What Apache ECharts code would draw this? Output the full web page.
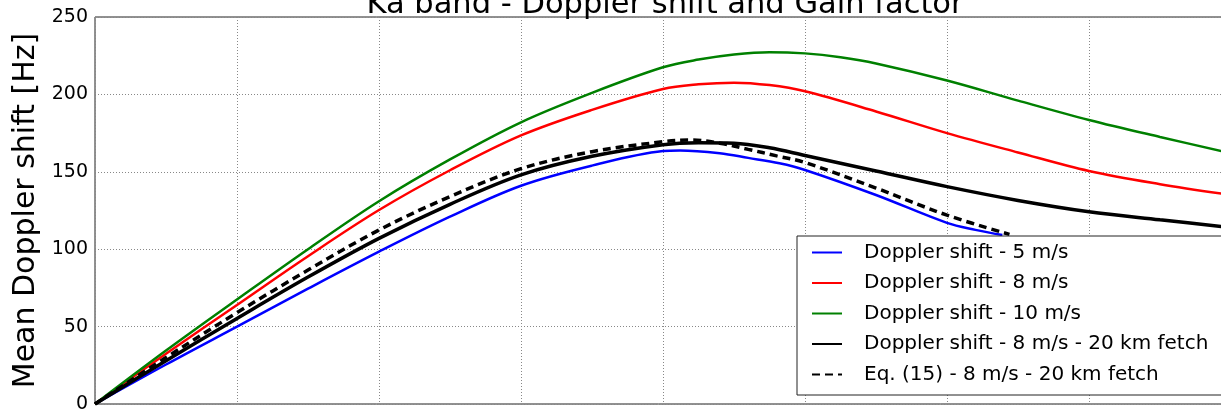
<!DOCTYPE html>
<html>
<head>
<meta charset="utf-8">
<script src="https://cdn.jsdelivr.net/npm/echarts@6/dist/echarts.min.js"></script>
<style>
  html, body { margin: 0; padding: 0; background: #fff; }
  #chart { width: 1221px; height: 411px; }
</style>
</head>
<body>
<div id="chart"></div>
<script>
// Incidence angle [deg] vs mean Doppler shift [Hz], Ka band
const titleText = 'Ka band - Doppler shift and Gain factor';
const yAxisName = 'Mean Doppler shift [Hz]';
const yTicks = [0, 50, 100, 150, 200, 250];

const seriesNames = [
  'Doppler shift - 5 m/s',
  'Doppler shift - 8 m/s',
  'Doppler shift - 10 m/s',
  'Doppler shift - 8 m/s - 20 km fetch',
  'Eq. (15) - 8 m/s - 20 km fetch'
];

// [angle, value] pairs
const wind5 = [
  [0, 0], [5, 25.5], [10, 50], [15, 74.5], [20, 98.4], [25, 121], [30, 141],
  [35, 154], [40, 163.4], [41.2, 163.8], [44, 162], [46, 159], [48.2, 155.5],
  [50, 151.2], [55, 135], [60, 117], [62, 112.5], [63.9, 109.2]
];
const wind8 = [
  [0, 0], [5, 32.5], [10, 64], [15, 95.5], [20, 125.3], [25, 151], [30, 173.5],
  [35, 190], [40, 203.5], [42.5, 206.5], [45, 207.6], [47.5, 206], [50, 202],
  [55, 189], [60, 175], [65, 162.5], [70, 150.5], [75, 142], [80, 135]
];
const wind10 = [
  [0, 0], [5, 34.5], [10, 67.5], [15, 100], [20, 131], [25, 158], [30, 182],
  [35, 201], [40, 217.5], [42.5, 222.5], [45, 225.8], [47.5, 227.3], [50, 226.5],
  [52.5, 224], [55, 220], [60, 209], [65, 196], [70, 183.5], [75, 172.5], [80, 162]
];
const fetch20 = [
  [0, 0], [5, 28], [10, 55.3], [15, 82], [20, 107], [25, 129], [30, 148],
  [35, 160], [40, 167.5], [42.5, 168.8], [45, 168.5], [47.5, 165.5], [50, 160.5],
  [55, 150.5], [60, 140.4], [65, 131.5], [70, 124.2], [75, 119], [80, 114]
];
const eq15 = [
  [0, 0], [5, 30], [10, 59], [15, 86.5], [20, 112.4], [25, 134], [30, 152],
  [35, 163], [40, 169.4], [42, 170.5], [44, 168.5], [46, 164.5], [48, 160.3],
  [50, 156], [55, 139.5], [60, 122], [64.4, 109.6]
];

const font = 'DejaVu Sans';

function lineSeries(name, data, color, width, dash) {
  return {
    name: name,
    type: 'line',
    data: data,
    smooth: 0.35,
    symbol: 'none',
    animation: false,
    lineStyle: { color: color, width: width, type: dash || 'solid', cap: 'butt' },
    itemStyle: { color: color }
  };
}

const chart = echarts.init(document.getElementById('chart'), null, { renderer: 'canvas' });
chart.setOption({
  backgroundColor: '#fff',
  animation: false,
  title: {
    text: titleText,
    left: 660,
    top: -15,
    textAlign: 'center',
    textStyle: { fontFamily: font, fontSize: 30.5, fontWeight: 'normal', color: '#000' }
  },
  grid: {
    left: 95, top: 17, width: 1136, height: 387,
    outerBoundsMode: 'none',
    containLabel: false,
    show: true, borderColor: '#222', borderWidth: 1, backgroundColor: 'transparent'
  },
  xAxis: {
    type: 'value', min: 0, max: 80, interval: 10,
    axisLine: { show: false }, axisTick: { show: false }, axisLabel: { show: false },
    splitLine: { show: true, lineStyle: { color: '#888', width: 1, type: [1, 2] } }
  },
  yAxis: {
    type: 'value', min: yTicks[0], max: yTicks[yTicks.length - 1], interval: 50,
    name: yAxisName, nameLocation: 'middle', nameGap: 51,
    nameTextStyle: { fontFamily: font, fontSize: 30, color: '#000' },
    axisLine: { show: false }, axisTick: { show: false },
    axisLabel: { fontFamily: font, fontSize: 19, color: '#000', margin: 7 },
    splitLine: { show: true, lineStyle: { color: '#888', width: 1, type: [1, 2] } }
  },
  legend: {
    data: seriesNames,
    orient: 'vertical',
    left: 797, top: 236,
    backgroundColor: '#fff',
    borderColor: '#222', borderWidth: 1, borderRadius: 0,
    padding: [5, 40, 9, 14],
    itemWidth: 30, itemHeight: 14, itemGap: 7.5,
    itemStyle: { opacity: 0 },
    textStyle: { fontFamily: font, fontSize: 20, color: '#000', lineHeight: 23, padding: [0, 0, 0, 17] }
  },
  series: [
    lineSeries(seriesNames[0], wind5, '#0000ff', 2.5),
    lineSeries(seriesNames[1], wind8, '#ff0000', 2.5),
    lineSeries(seriesNames[2], wind10, '#008000', 2.5),
    lineSeries(seriesNames[3], fetch20, '#000000', 3.5),
    lineSeries(seriesNames[4], eq15, '#000000', 3.5, [8, 5])
  ]
});
</script>
</body>
</html>
